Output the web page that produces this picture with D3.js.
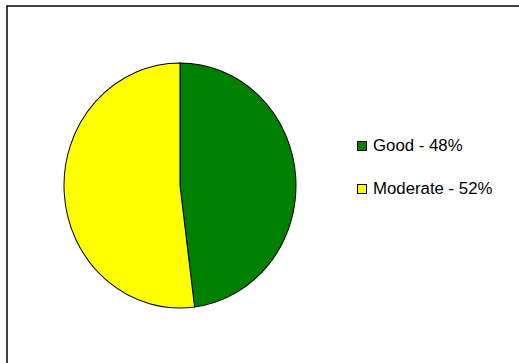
<!DOCTYPE html>
<html>
<head>
<meta charset="utf-8">
<script src="https://cdn.jsdelivr.net/npm/d3@7"></script>
<style>
  html, body { margin: 0; padding: 0; background: #fff; }
  svg { display: block; }
</style>
</head>
<body>
<svg id="chart" width="519" height="363"></svg>
<script>
// Share of days per air quality category
const categories = ["Good", "Moderate"];
const shares = [48, 52];
const colors = ["#008000", "#ffff00"];

const svg = d3.select("#chart");

// Chart frame (extends beyond the visible area on the right and bottom)
svg.append("rect")
  .attr("x", 7).attr("y", 6)
  .attr("width", 600).attr("height", 400)
  .attr("fill", "#fff")
  .attr("stroke", "#000")
  .attr("stroke-width", 1.5);

// Pie, slightly taller than wide
const cx = 180, cy = 185.5, rx = 116, ry = 122.5;
const pie = d3.pie().sort(null).value(d => d.value);
const arc = d3.arc().innerRadius(0).outerRadius(rx);
const data = categories.map((c, i) => ({ name: c, value: shares[i], color: colors[i] }));

const g = svg.append("g")
  .attr("transform", `translate(${cx},${cy}) scale(1,${ry / rx})`);

g.selectAll("path")
  .data(pie(data))
  .join("path")
  .attr("d", arc)
  .attr("fill", d => d.data.color)
  .attr("stroke", "#000")
  .attr("stroke-width", 1);

// Legend
const legend = svg.append("g").attr("transform", "translate(357,141)");
const rowStep = 43;
const item = legend.selectAll("g")
  .data(data)
  .join("g")
  .attr("transform", (d, i) => `translate(0,${i * rowStep})`);

item.append("rect")
  .attr("x", 0.5).attr("y", 0.5)
  .attr("width", 9).attr("height", 9)
  .attr("fill", d => d.color)
  .attr("stroke", "#000")
  .attr("stroke-width", 1);

item.append("text")
  .attr("x", 16).attr("y", 10)
  .attr("font-family", "Liberation Sans, Arial, sans-serif")
  .attr("font-size", 16.8)
  .attr("fill", "#000")
  .text(d => `${d.name} - ${d.value}%`);
</script>
</body>
</html>
